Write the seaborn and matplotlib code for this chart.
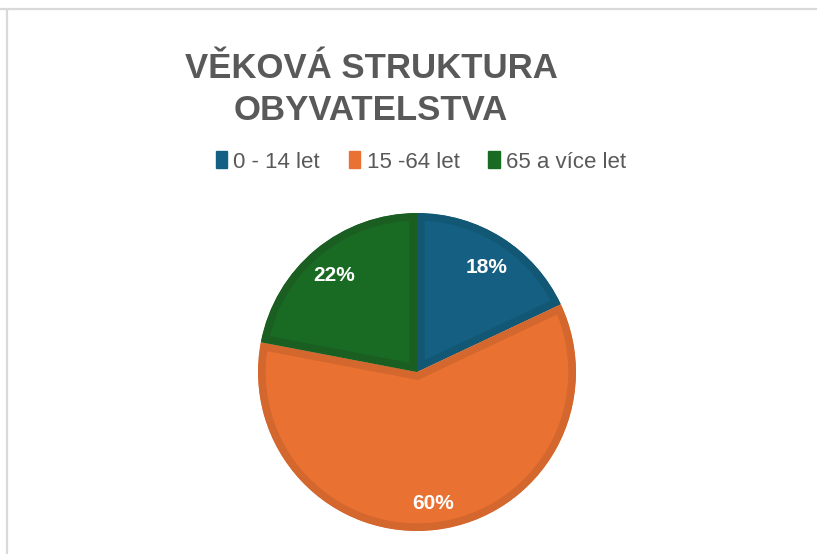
import seaborn as sns
import matplotlib.pyplot as plt
from matplotlib.lines import Line2D
from matplotlib.patches import Patch, Wedge

categories = ["0 - 14 let", "15 -64 let", "65 a více let"]
shares = [18, 60, 22]
fill_colors = ["#156082", "#E97132", "#196B24"]
edge_colors = ["#125774", "#D3672D", "#1A5E21"]

sns.set_theme(style="white")
plt.rcParams['font.family'] = ['Liberation Sans', 'DejaVu Sans']

fig = plt.figure(figsize=(8.17, 5.54), dpi=100)
fig.patch.set_facecolor("white")

# frame lines like the spreadsheet chart border
fig.add_artist(Line2D([0.0, 1.0], [1 - 9 / 554, 1 - 9 / 554], transform=fig.transFigure,
                      color="#d9d9d9", lw=1.6))
fig.add_artist(Line2D([7 / 817, 7 / 817], [0.0, 1 - 9 / 554], transform=fig.transFigure,
                      color="#d9d9d9", lw=1.6))

# pie centre (417, 372), radius ~159 px
r = 159
ax = fig.add_axes([(417 - r) / 817, (554 - 372 - r) / 554, 2 * r / 817, 2 * r / 554])
wedges, texts = ax.pie(shares, colors=fill_colors, startangle=90, counterclock=False,
                       radius=1.0, wedgeprops=dict(linewidth=11))
ax.set_aspect("equal")
ax.set_xlim(-1, 1)
ax.set_ylim(-1, 1)
for w, ec in zip(wedges, edge_colors):
    w.set_edgecolor(ec)
    # keep the darker border inside each slice
    clip = Wedge(w.center, w.r, w.theta1, w.theta2, transform=ax.transData)
    w.set_clip_path(clip)
    w.set_clip_on(True)
ax.axis("off")

# percentage labels
label_pos = [(0.44, 0.66), (0.10, -0.83), (-0.52, 0.61)]
for (x, y), v in zip(label_pos, shares):
    ax.text(x, y, f"{v}%", color="white", fontsize=15, fontweight="bold",
            ha="center", va="center")

fig.text(371 / 817, 1 - 68 / 554, "VĚKOVÁ STRUKTURA", ha="center", va="center",
         fontsize=25, fontweight="bold", color="#595959")
fig.text(371 / 817, 1 - 111 / 554, "OBYVATELSTVA", ha="center", va="center",
         fontsize=25, fontweight="bold", color="#595959")

handles = [Patch(facecolor=c, edgecolor=c) for c in fill_colors]
fig.legend(handles, categories, loc="center", bbox_to_anchor=(421 / 817, 1 - 162 / 554),
           ncol=3, frameon=False, fontsize=16, handlelength=0.5, handleheight=0.8,
           handletextpad=0.3, columnspacing=1.3, labelcolor="#595959")

plt.savefig("out.png", dpi=100)
